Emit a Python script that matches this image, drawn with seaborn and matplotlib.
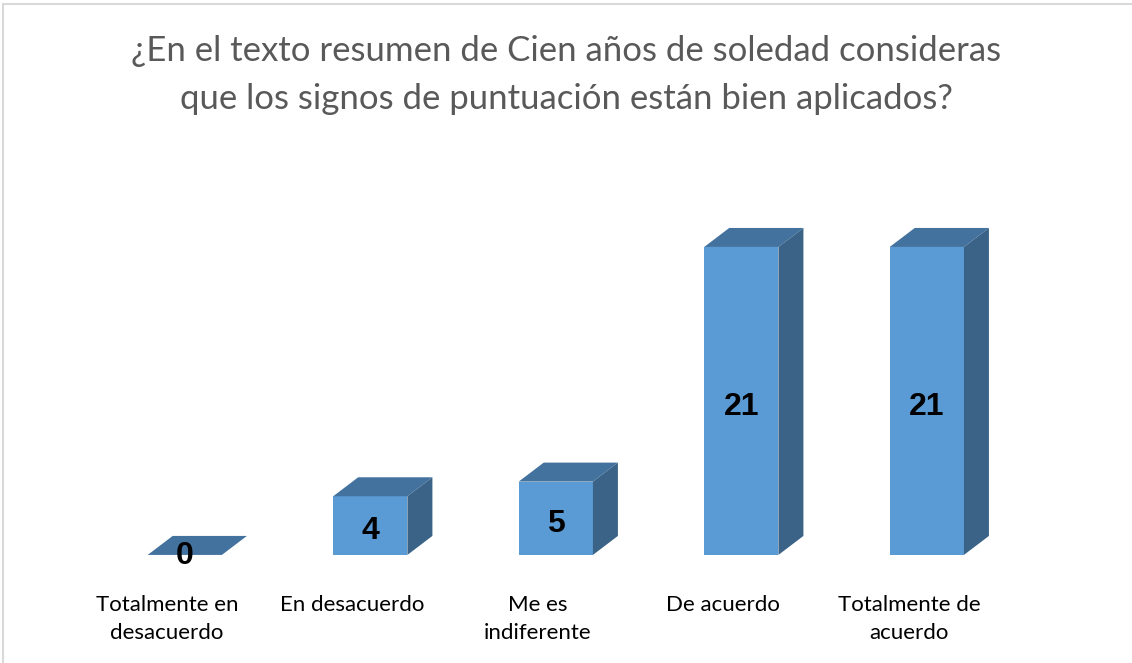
import pandas as pd
import seaborn as sns
import matplotlib.pyplot as plt
import matplotlib.transforms as mtransforms
from matplotlib.patches import Polygon
from matplotlib.lines import Line2D

# data
categories = ["Totalmente en\ndesacuerdo", "En desacuerdo", "Me es\nindiferente",
              "De acuerdo", "Totalmente de\nacuerdo"]
counts = [0, 4, 5, 21, 21]

title = ("¿En el texto resumen de Cien años de soledad consideras\n"
         "que los signos de puntuación están bien aplicados?")

front_col = "#5B9BD5"
top_col = "#43729F"
side_col = "#3A6387"

df = pd.DataFrame({"cat": categories, "n": counts})

sns.set_style("white")
plt.rcParams["font.family"] = ["Lato", "DejaVu Sans"]

fig = plt.figure(figsize=(11.32, 6.63), dpi=100)
ax = fig.add_axes([0.0813, 0.163, 0.8194, 0.553])

sns.barplot(data=df, x="cat", y="n", color=front_col, width=0.4,
            saturation=1, ax=ax, zorder=2)
ax.set_xlim(-0.5, 4.5)
ax.set_ylim(0, 25)

# 3d look: depth in pixels, turned into data units
dx_px, dy_px = 25, 19
ppx = ax.bbox.width / 5.0
ppy = ax.bbox.height / 25.0
ddx, ddy = dx_px / ppx, dy_px / ppy

for p, v in zip(ax.patches, counts):
    x0 = p.get_x()
    w = p.get_width()
    h = p.get_height()
    p.set_edgecolor("none")
    top = Polygon([(x0, h), (x0 + w, h), (x0 + w + ddx, h + ddy), (x0 + ddx, h + ddy)],
                  closed=True, facecolor=top_col, edgecolor="none", clip_on=False, zorder=3)
    ax.add_patch(top)
    if h > 0:
        side = Polygon([(x0 + w, 0), (x0 + w + ddx, ddy), (x0 + w + ddx, h + ddy), (x0 + w, h)],
                       closed=True, facecolor=side_col, edgecolor="none", clip_on=False, zorder=3)
        ax.add_patch(side)
    ypos = h / 2 - 0.4 if h > 0 else -0.1
    ax.text(x0 + w / 2, ypos, str(v), ha="center", va="center", fontsize=23,
            fontweight="bold", family="Liberation Sans", color="black", zorder=5)

for s in ax.spines.values():
    s.set_visible(False)
ax.set_yticks([])
ax.set_xlabel("")
ax.set_ylabel("")
ax.tick_params(axis="x", length=0, pad=29, labelsize=16, colors="black")
shift = mtransforms.ScaledTranslation(-18 / 100, 0, fig.dpi_scale_trans)
for t in ax.get_xticklabels():
    t.set_linespacing(1.5)
    t.set_transform(t.get_transform() + shift)

fig.text(0.5, 0.947, title, ha="center", va="top", fontsize=25, color="#595959",
         linespacing=1.6)

# chart frame (top and left edges visible)
fig.add_artist(Line2D([0.003, 1.0], [0.994, 0.994], color="#D9D9D9", lw=1.5))
fig.add_artist(Line2D([0.003, 0.003], [0.0, 0.994], color="#D9D9D9", lw=1.5))

fig.savefig("out.png", dpi=100)
